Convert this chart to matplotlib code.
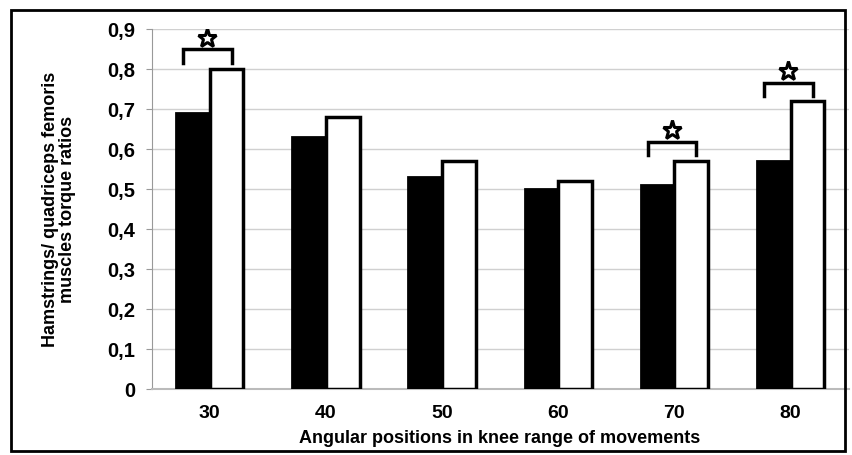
import matplotlib.pyplot as plt
from matplotlib.patches import Rectangle

angles = ["30", "40", "50", "60", "70", "80"]
black_vals = [0.69, 0.63, 0.53, 0.50, 0.51, 0.57]
white_vals = [0.80, 0.68, 0.57, 0.52, 0.57, 0.72]
# significant groups and their bracket heights
sig_groups = [0, 4, 5]
bracket_y = [0.848, 0.618, 0.765]

plt.rcParams['font.family'] = ['Liberation Sans', 'DejaVu Sans']

fig = plt.figure(figsize=(8.52, 4.56), dpi=100)
ax = fig.add_axes([0.178, 0.145, 0.818, 0.79])

x = list(range(len(angles)))
w = 0.29
ax.bar([i - w / 2 for i in x], black_vals, width=w, color='black',
       edgecolor='black', linewidth=2, zorder=3)
ax.bar([i + w / 2 for i in x], white_vals, width=w, color='white',
       edgecolor='black', linewidth=2.5, zorder=3)

for i, by in zip(sig_groups, bracket_y):
    x0, x1 = i - 0.23, i + 0.19
    ax.plot([x0, x0, x1, x1], [by - 0.033, by, by, by - 0.033],
            color='black', lw=2.5, zorder=4, solid_joinstyle='miter')
    ax.plot(i - 0.02, by + 0.029, marker='*', ms=14, mfc='white', mec='black',
            mew=2.2, zorder=5)

ax.set_xlim(-0.5, 5.5)
ax.set_ylim(0, 0.9)
ax.set_yticks([i / 10 for i in range(10)])
ax.set_yticklabels(['0'] + ['0,%d' % i for i in range(1, 10)])
ax.set_xticks(x)
ax.set_xticklabels(angles)
ax.tick_params(axis='y', length=4, color='#999999', labelsize=14.5, pad=8)
ax.tick_params(axis='x', length=0, labelsize=14, pad=11)
for lab in ax.get_xticklabels() + ax.get_yticklabels():
    lab.set_fontweight('bold')

ax.yaxis.grid(True, color='#d0d0d0', lw=1, zorder=0)
for s in ['top', 'right']:
    ax.spines[s].set_visible(False)
ax.spines['left'].set_color('#999999')
ax.spines['bottom'].set_color('#bbbbbb')
ax.spines['bottom'].set_linewidth(1.5)

ax.set_xlabel('Angular positions in knee range of movements', fontsize=13,
              fontweight='bold', labelpad=6)
ax.set_ylabel('Hamstrings/ quadriceps femoris\nmuscles torque ratios',
              fontsize=13, fontweight='bold', labelpad=22, linespacing=1.05)

fig.patches.append(Rectangle((0.013, 0.009), 0.979, 0.967, transform=fig.transFigure,
                             fill=False, edgecolor='black', lw=2))

fig.savefig('out.png', dpi=100)
